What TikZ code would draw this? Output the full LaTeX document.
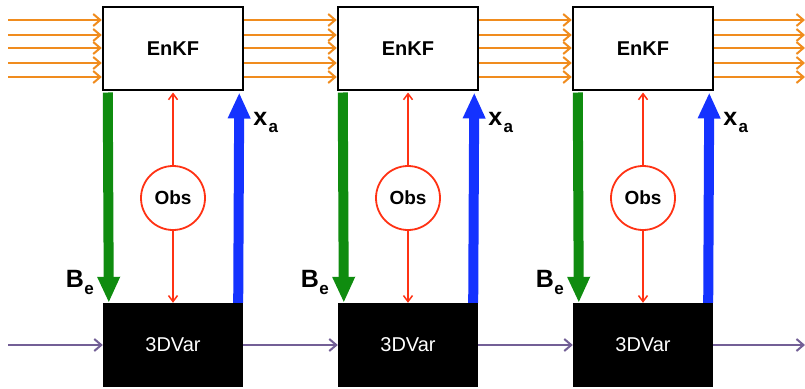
\documentclass[tikz,border=0pt]{standalone}
\usepackage{fontspec}
\setmainfont{Liberation Sans}
\usetikzlibrary{arrows.meta,calc}
\definecolor{orng}{RGB}{240,140,30}
\definecolor{grn}{RGB}{15,140,15}
\definecolor{blu}{RGB}{20,50,255}
\definecolor{rd}{RGB}{255,50,20}
\definecolor{prp}{RGB}{115,95,150}
\begin{document}
\begin{tikzpicture}[x=1pt,y=-1pt,
  enkfbox/.style={draw=black,line width=2.5pt,fill=white,minimum width=140pt,minimum height=83pt,inner sep=0pt,font=\bfseries\fontsize{20}{24}\selectfont},
  varbox/.style={fill=black,text=white,minimum width=140pt,minimum height=84pt,inner sep=0pt,font=\fontsize{20}{24}\selectfont},
  obsnode/.style={circle,draw=rd,line width=1.8pt,fill=white,minimum size=64pt,inner sep=0pt,font=\bfseries\fontsize{19}{23}\selectfont},
  ens/.style={draw=orng,line width=2pt,-{Straight Barb[length=7pt,width=12pt]}},
  traj/.style={draw=prp,line width=2pt,-{Straight Barb[length=7pt,width=12pt]}},
  obsarrow/.style={draw=rd,line width=1.5pt,-{Straight Barb[length=6pt,width=9pt]}},
  bearrow/.style={draw=grn,line width=10pt,-{Triangle[length=26pt,width=21pt]}},
  xaarrow/.style={draw=blu,line width=10pt,-{Triangle[length=26pt,width=21pt]}},
  lbl/.style={font=\bfseries\fontsize{25}{28}\selectfont,inner sep=0pt},
  sublbl/.style={font=\bfseries\fontsize{17}{20}\selectfont,inner sep=0pt}]
\useasboundingbox (0,0) rectangle (805,388);
\clip (0,0) rectangle (805,388);
% boxes
\foreach \i/\cx in {1/173,2/408,3/643}{
  \node[enkfbox] (e\i) at (\cx,48.5) {EnKF};
  \node[varbox] (v\i) at (\cx,345) {3DVar};
  \node[obsnode] (o\i) at (\cx,198) {Obs};
}
\coordinate (inl) at (8,0);
\coordinate (outr) at (805,0);
% ensemble arrows
\foreach \yy in {20,35,48,63,77}{
  \draw[ens] (inl |- 0,\yy) -- (e1.west |- 0,\yy);
  \draw[ens] (e1.east |- 0,\yy) -- (e2.west |- 0,\yy);
  \draw[ens] (e2.east |- 0,\yy) -- (e3.west |- 0,\yy);
  \draw[ens] (e3.east |- 0,\yy) -- (outr |- 0,\yy);
}
% trajectory
\draw[traj] (inl |- v1.west) -- (v1.west);
\draw[traj] (v1.east) -- (v2.west);
\draw[traj] (v2.east) -- (v3.west);
\draw[traj] (v3.east) -- (outr |- v3.east);
% vertical links
\foreach \i in {1,2,3}{
  \draw[bearrow] ($(e\i.south west)+(6,1.25)$) -- ($(v\i.north west)+(6,0)$);
  \draw[xaarrow] ($(v\i.north east)+(-5,0)$) -- ($(e\i.south east)+(-5,1.25)$);
  \draw[obsarrow] (o\i.north) -- ($(e\i.south)+(0,1.25)$);
  \draw[obsarrow] (o\i.south) -- (v\i.north);
  \node[lbl] (xa\i) at ($(e\i.south east)+(16,28)$) {x};
  \node[sublbl] (xs\i) at ($(xa\i.east)+(6,9)$) {a};
  \node[lbl] (be\i) at ($(v\i.north west)+(-28,-24)$) {B};
  \node[sublbl] (bs\i) at ($(be\i.east)+(5,11)$) {e};
}
\end{tikzpicture}
\end{document}
